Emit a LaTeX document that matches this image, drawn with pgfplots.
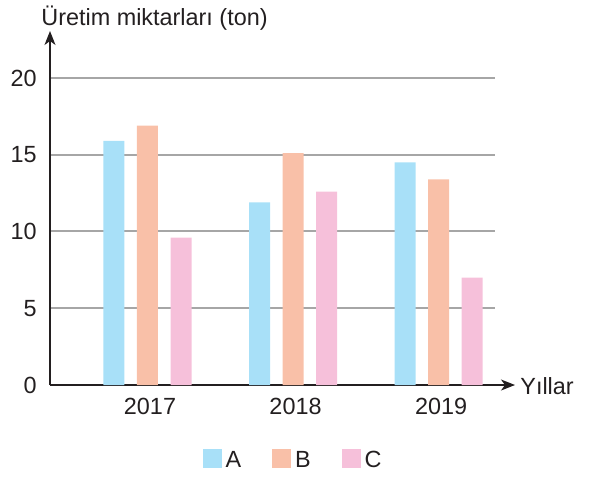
\documentclass[border=0pt]{standalone}
\usepackage{pgfplots}
\pgfplotsset{compat=1.18}
\usepackage{fontspec}
\setmainfont{Liberation Sans}
\usetikzlibrary{arrows.meta}
\definecolor{cA}{HTML}{A8E0F8}
\definecolor{cB}{HTML}{F9C0A8}
\definecolor{cC}{HTML}{F6C0DA}
\definecolor{gridc}{HTML}{A6A6A6}
\definecolor{axc}{HTML}{231F20}
\begin{document}
\begin{tikzpicture}[font=\fontsize{11.7}{14}\selectfont]
\useasboundingbox (-25pt,-46.5pt) rectangle (271.5pt,192.5pt);
\begin{axis}[
  at={(0,0)}, anchor=south west,
  scale only axis, width=222.5pt, height=177pt,
  xmin=-0.670, xmax=2.388, ymin=0, ymax=23.06,
  axis x line=bottom, axis y line=left,
  x axis line style={-{Stealth[length=7pt,width=5.5pt,inset=2pt]}, shorten >=-10pt, line width=0.65pt, color=axc},
  y axis line style={-{Stealth[length=7pt,width=5.5pt,inset=2pt]}, line width=0.65pt, color=axc},
  xtick={0,1,2}, xticklabels={2017,2018,2019},
  ytick={0,5,10,15,20},
  major tick length=0pt,
  /pgf/number format/assume math mode=true,
  xticklabel style={inner sep=0pt, anchor=north, yshift=-6.5pt, xshift=1.25pt, color=axc},
  yticklabel style={inner sep=0pt, anchor=east, xshift=-6.5pt, color=axc},
  ymajorgrids, grid style={gridc, line width=1pt},
  ybar, bar width=10.5pt,
  legend columns=3,
  legend style={draw=none, at={(0.544,-0.181)}, anchor=north, inner sep=0pt, outer sep=0pt,
    font=\fontsize{11.7}{14}\selectfont,
    nodes={inner sep=0pt, text=axc}, fill=none,
    /tikz/every odd column/.append style={column sep=2pt},
    /tikz/every even column/.append style={column sep=15.5pt}},
  legend image code/.code={\fill[#1] (0pt,-3.5pt) rectangle (9.5pt,6pt);},
]
\addplot[fill=cA, draw=none, bar shift=-16.75pt] coordinates {(0,15.9) (1,11.9) (2,14.5)};
\addplot[fill=cB, draw=none, bar shift=0pt] coordinates {(0,16.9) (1,15.1) (2,13.4)};
\addplot[fill=cC, draw=none, bar shift=16.75pt] coordinates {(0,9.6) (1,12.6) (2,7.0)};
\addlegendentry{A}
\addlegendentry{B}
\addlegendentry{C}
\end{axis}
\node[anchor=base west, inner sep=0pt, text=axc] at (-4.5pt,180pt) {Üretim miktarları (ton)};
\node[anchor=base west, inner sep=0pt, text=axc] at (235pt,-4.5pt) {Yıllar};
\end{tikzpicture}
\end{document}
